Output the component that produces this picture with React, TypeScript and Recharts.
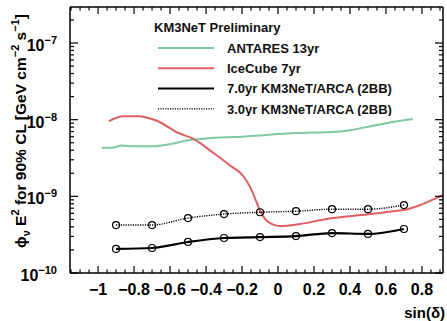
import { Legend, Line, LineChart, XAxis, YAxis } from 'recharts';

// sin(declination) where the KM3NeT sensitivities were computed
const arcaSinDec = [-0.9, -0.7, -0.5, -0.3, -0.1, 0.1, 0.3, 0.5, 0.7];
const arca7yr = [2.06e-10, 2.12e-10, 2.54e-10, 2.86e-10, 2.94e-10, 3.03e-10, 3.32e-10, 3.23e-10, 3.75e-10];
const arca3yr = [4.22e-10, 4.22e-10, 5.21e-10, 5.87e-10, 6.2e-10, 6.4e-10, 6.8e-10, 6.8e-10, 7.7e-10];

const antaresSinDec = [-0.98, -0.92, -0.87, -0.8, -0.7, -0.6, -0.5, -0.4, -0.3, -0.2, -0.1, 0, 0.1, 0.2, 0.3, 0.4, 0.5, 0.6, 0.75];
const antaresFlux = [4.3e-9, 4.3e-9, 4.6e-9, 4.5e-9, 4.5e-9, 4.8e-9, 5.4e-9, 5.7e-9, 5.9e-9, 6.0e-9, 6.2e-9, 6.5e-9, 6.7e-9, 6.8e-9, 6.9e-9, 7.3e-9, 8.1e-9, 9.0e-9, 1.02e-8];

const icecubeSinDec = [-0.94, -0.86, -0.78, -0.67, -0.56, -0.47, -0.36, -0.27, -0.19, -0.15, -0.12, -0.1, -0.07, -0.03, 0.01, 0.12, 0.27, 0.46, 0.64, 0.72, 0.79, 0.88, 0.917];
const icecubeFlux = [9.6e-9, 1.11e-8, 1.11e-8, 9.6e-9, 6.8e-9, 5.6e-9, 3.7e-9, 2.56e-9, 1.8e-9, 1.25e-9, 8.5e-10, 6.5e-10, 5.0e-10, 4.3e-10, 4.1e-10, 4.35e-10, 5.06e-10, 5.7e-10, 6.4e-10, 6.8e-10, 7.7e-10, 9.5e-10, 1.04e-9];

const seriesNames = ['ANTARES 13yr', 'IceCube 7yr', '7.0yr KM3NeT/ARCA (2BB)', '3.0yr KM3NeT/ARCA (2BB)'];
const xMajorTicks = [-1, -0.8, -0.6, -0.4, -0.2, 0, 0.2, 0.4, 0.6, 0.8];
const yDecades = [-10, -9, -8, -7];

const GREEN = '#80c9a0';
const RED = '#df5f5f';
const FONT = '"Liberation Sans", Arial, Helvetica, sans-serif';
const X_DOMAIN = [-1.156, 0.917];
const Y_DOMAIN = [1e-10, 2.95e-7];
const PLOT = { left: 70, top: 7, right: 443, bottom: 273 };

const toRows = (xs: number[], ys: number[]) => xs.map((x, i) => ({ x, y: ys[i] }));
const antaresData = toRows(antaresSinDec, antaresFlux);
const icecubeData = toRows(icecubeSinDec, icecubeFlux);
const arca7Data = toRows(arcaSinDec, arca7yr);
const arca3Data = toRows(arcaSinDec, arca3yr);

// minor ticks every 0.05 across the x range
const xTicks: number[] = [];
for (let k = -23; k <= 18; k++) xTicks.push(Math.round(k * 5) / 100);
// log ticks: decades + 2..9
const yTicks: number[] = [];
yDecades.forEach((e) => {
	for (let m = 1; m <= 9; m++) {
		const v = m * Math.pow(10, e);
		if (v <= Y_DOMAIN[1]) yTicks.push(v);
	}
});

const isMajorX = (v: number) => xMajorTicks.some((t) => Math.abs(t - v) < 1e-6);
const isDecade = (v: number) => {
	const e = Math.round(Math.log10(v));
	return Math.abs(v / Math.pow(10, e) - 1) < 1e-6;
};
const minus = (s: string) => s.replace('-', '\u2212');

function BottomTick({ x, payload }: any) {
	const major = isMajorX(payload.value);
	return (
		<g>
			<line x1={x} x2={x} y1={PLOT.bottom} y2={PLOT.bottom - (major ? 7 : 3.5)} stroke="#000" strokeWidth={1.2} />
			{major && (
				<text x={x} y={PLOT.bottom + 22} textAnchor="middle" fontFamily={FONT} fontWeight="bold" fontSize={16} fill="#000">
					{minus(String(payload.value))}
				</text>
			)}
		</g>
	);
}

function TopTick({ x, payload }: any) {
	const major = isMajorX(payload.value);
	return <line x1={x} x2={x} y1={PLOT.top} y2={PLOT.top + (major ? 7 : 3.5)} stroke="#000" strokeWidth={1.2} />;
}

function LeftTick({ y, payload }: any) {
	const v = payload.value;
	const major = isDecade(v);
	const e = Math.round(Math.log10(v));
	return (
		<g>
			<line x1={PLOT.left} x2={PLOT.left + (major ? 8 : 4)} y1={y} y2={y} stroke="#000" strokeWidth={1.2} />
			{major && (
				<text x={57} y={y + 8} textAnchor="end" fontFamily={FONT} fontWeight="bold" fontSize={16} fill="#000">
					10
					<tspan dy={-7} fontSize={11}>
						{minus(String(e))}
					</tspan>
				</text>
			)}
		</g>
	);
}

function RightTick({ y, payload }: any) {
	const major = isDecade(payload.value);
	return <line x1={PLOT.right} x2={PLOT.right - (major ? 8 : 4)} y1={y} y2={y} stroke="#000" strokeWidth={1.2} />;
}

function YTitle() {
	const cx = 26;
	const cy = 131;
	return (
		<text
			x={cx}
			y={cy}
			transform={`rotate(-90 ${cx} ${cy})`}
			textAnchor="middle"
			fontFamily={FONT}
			fontWeight="bold"
			fontSize={15.5}
			fill="#000"
		>
			{'\u03d5'}
			<tspan dy={4} fontSize={11}>{'\u03bd'}</tspan>
			<tspan dy={-4}>{' E'}</tspan>
			<tspan dy={-7} fontSize={11}>2</tspan>
			<tspan dy={7}>{' for 90% CL [GeV cm'}</tspan>
			<tspan dy={-7} fontSize={11}>{'\u22122'}</tspan>
			<tspan dy={7}>{' s'}</tspan>
			<tspan dy={-7} fontSize={11}>{'\u22121'}</tspan>
			<tspan dy={7}>]</tspan>
		</text>
	);
}

function XTitle() {
	return (
		<text x={445} y={318} textAnchor="end" fontFamily={FONT} fontWeight="bold" fontSize={15} fill="#000">
			sin({'\u03b4'})
		</text>
	);
}

const legendStyles = [
	{ color: GREEN, width: 2, dash: undefined },
	{ color: RED, width: 2, dash: undefined },
	{ color: '#000', width: 2, dash: undefined },
	{ color: '#000', width: 1.3, dash: '1.2 1.2' },
];

function LegendBox() {
	return (
		<svg width={280} height={100} style={{ display: 'block' }}>
			<text x={4} y={16} fontFamily={FONT} fontWeight="bold" fontSize={13} fill="#111">
				KM3NeT Preliminary
			</text>
			{seriesNames.map((name, i) => {
				const cy = 32 + i * 20.3;
				const s = legendStyles[i];
				return (
					<g key={name}>
						<line x1={8} x2={64} y1={cy} y2={cy} stroke={s.color} strokeWidth={s.width} strokeDasharray={s.dash} />
						<text x={77} y={cy + 4.6} fontFamily={FONT} fontWeight="bold" fontSize={13} fill="#111">
							{name}
						</text>
					</g>
				);
			})}
		</svg>
	);
}

const frame = { stroke: '#000', strokeWidth: 1.5 };
const markerDot = { r: 3.5, fill: 'none', stroke: '#000', strokeWidth: 1.2, strokeDasharray: 'none' };

export default function App() {
	return (
		<div style={{ position: 'absolute', left: 0, top: 0, background: '#fff' }}>
			<LineChart width={447} height={321} margin={{ top: 0, right: 0, bottom: 0, left: 0 }}>
				<XAxis
					xAxisId="bottom"
					dataKey="x"
					type="number"
					domain={X_DOMAIN}
					allowDataOverflow
					ticks={xTicks}
					interval={0}
					height={48}
					tickSize={0}
					tickMargin={0}
					axisLine={frame}
					tick={<BottomTick />}
					label={{ content: () => <XTitle /> }}
				/>
				<XAxis
					xAxisId="top"
					orientation="top"
					dataKey="x"
					type="number"
					domain={X_DOMAIN}
					allowDataOverflow
					ticks={xTicks}
					interval={0}
					height={7}
					tickSize={0}
					tickMargin={0}
					axisLine={frame}
					tick={<TopTick />}
				/>
				<YAxis
					yAxisId="left"
					type="number"
					scale="log"
					domain={Y_DOMAIN}
					allowDataOverflow
					ticks={yTicks}
					interval={0}
					width={70}
					tickSize={0}
					tickMargin={0}
					axisLine={frame}
					tick={<LeftTick />}
					label={{ content: () => <YTitle /> }}
				/>
				<YAxis
					yAxisId="right"
					orientation="right"
					type="number"
					scale="log"
					domain={Y_DOMAIN}
					allowDataOverflow
					ticks={yTicks}
					interval={0}
					width={4}
					tickSize={0}
					tickMargin={0}
					axisLine={frame}
					tick={<RightTick />}
				/>
				<Legend
					verticalAlign="middle"
					align="center"
					content={() => <LegendBox />}
					wrapperStyle={{ left: 150, top: 16, width: 280, height: 100 }}
				/>
				<Line
					xAxisId="bottom"
					yAxisId="left"
					data={antaresData}
					dataKey="y"
					type="monotone"
					stroke={GREEN}
					strokeWidth={2}
					dot={false}
					isAnimationActive={false}
				/>
				<Line
					xAxisId="bottom"
					yAxisId="left"
					data={icecubeData}
					dataKey="y"
					type="monotone"
					stroke={RED}
					strokeWidth={2}
					dot={false}
					isAnimationActive={false}
				/>
				<Line
					xAxisId="bottom"
					yAxisId="left"
					data={arca3Data}
					dataKey="y"
					type="monotone"
					stroke="#000"
					strokeWidth={1.4}
					strokeDasharray="1.2 1.2"
					dot={markerDot}
					isAnimationActive={false}
				/>
				<Line
					xAxisId="bottom"
					yAxisId="left"
					data={arca7Data}
					dataKey="y"
					type="monotone"
					stroke="#000"
					strokeWidth={2.2}
					dot={markerDot}
					isAnimationActive={false}
				/>
			</LineChart>
		</div>
	);
}
